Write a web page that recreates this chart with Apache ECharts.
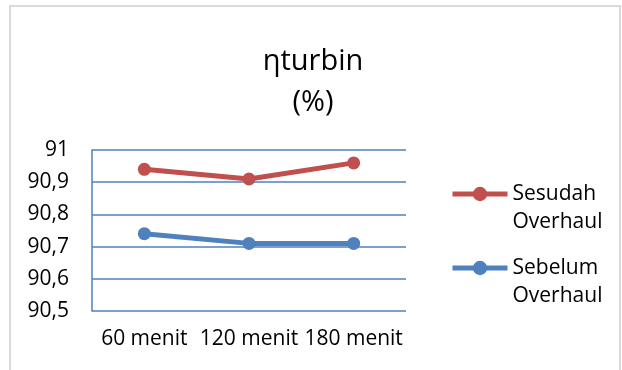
<!DOCTYPE html>
<html>
<head>
<meta charset="utf-8">
<style>
  html, body { margin: 0; padding: 0; background: #ffffff; }
  #chart { width: 622px; height: 370px; }
</style>
<script src="https://cdn.jsdelivr.net/npm/echarts@6/dist/echarts.min.js"></script>
</head>
<body>
<div id="chart"></div>
<script>
// Turbine efficiency before / after overhaul
const categories = ['60 menit', '120 menit', '180 menit'];
const sesudahOverhaul = [90.94, 90.91, 90.96];
const sebelumOverhaul = [90.74, 90.71, 90.71];
const yMin = 90.5;
const yMax = 91;
const yStep = 0.1;

const FONT = '"Open Sans", "Noto Sans", sans-serif';
const RED = '#C0504D';
const BLUE = '#4F81BD';

const chart = echarts.init(document.getElementById('chart'), null, { renderer: 'canvas' });

function lineSeries(name, data, color) {
  return {
    name: name,
    type: 'line',
    data: data,
    symbol: 'circle',
    symbolSize: 13,
    lineStyle: { color: color, width: 5 },
    itemStyle: { color: color },
    emphasis: { disabled: true },
    animation: false
  };
}

chart.setOption({
  backgroundColor: '#ffffff',
  animation: false,
  graphic: [{
    type: 'rect',
    shape: { x: 10, y: 6, width: 610, height: 400 },
    style: { fill: 'none', stroke: '#d9d9d9', lineWidth: 2 },
    silent: true,
    z: -10
  }],
  title: {
    text: 'ηturbin\n(%)',
    left: 308,
    top: 36,
    textAlign: 'center',
    textStyle: {
      fontFamily: FONT,
      fontSize: 29,
      fontWeight: 'normal',
      color: '#000000',
      lineHeight: 41,
      align: 'center'
    }
  },
  legend: {
    orient: 'vertical',
    left: 445,
    top: 147,
    itemWidth: 55,
    itemHeight: 18,
    itemGap: -10,
    data: ['Sesudah Overhaul', 'Sebelum Overhaul'],
    // blank first line keeps the marker level with the first word
    formatter: function (name) { return ' \n' + name.replace(' ', '\n'); },
    lineStyle: { width: 5 },
    textStyle: {
      fontFamily: FONT,
      fontSize: 21,
      color: '#000000',
      lineHeight: 28
    }
  },
  grid: {
    left: 92,
    right: 216,
    top: 150,
    bottom: 59,
    containLabel: false
  },
  xAxis: {
    type: 'category',
    data: categories,
    boundaryGap: true,
    axisLine: { show: false },
    axisTick: { show: false },
    axisLabel: {
      fontFamily: FONT,
      fontSize: 21,
      color: '#000000',
      margin: 18,
      interval: 0
    }
  },
  yAxis: {
    type: 'value',
    min: yMin,
    max: yMax,
    interval: yStep,
    axisLine: { show: true, lineStyle: { color: BLUE, width: 1.5 } },
    axisTick: { show: false },
    splitLine: { show: true, lineStyle: { color: BLUE, width: 1.5 } },
    axisLabel: {
      fontFamily: FONT,
      fontSize: 21,
      color: '#000000',
      margin: 23,
      formatter: function (v) { return String(+v.toFixed(1)).replace('.', ','); }
    }
  },
  series: [
    lineSeries('Sebelum Overhaul', sebelumOverhaul, BLUE),
    lineSeries('Sesudah Overhaul', sesudahOverhaul, RED)
  ]
});
</script>
</body>
</html>
